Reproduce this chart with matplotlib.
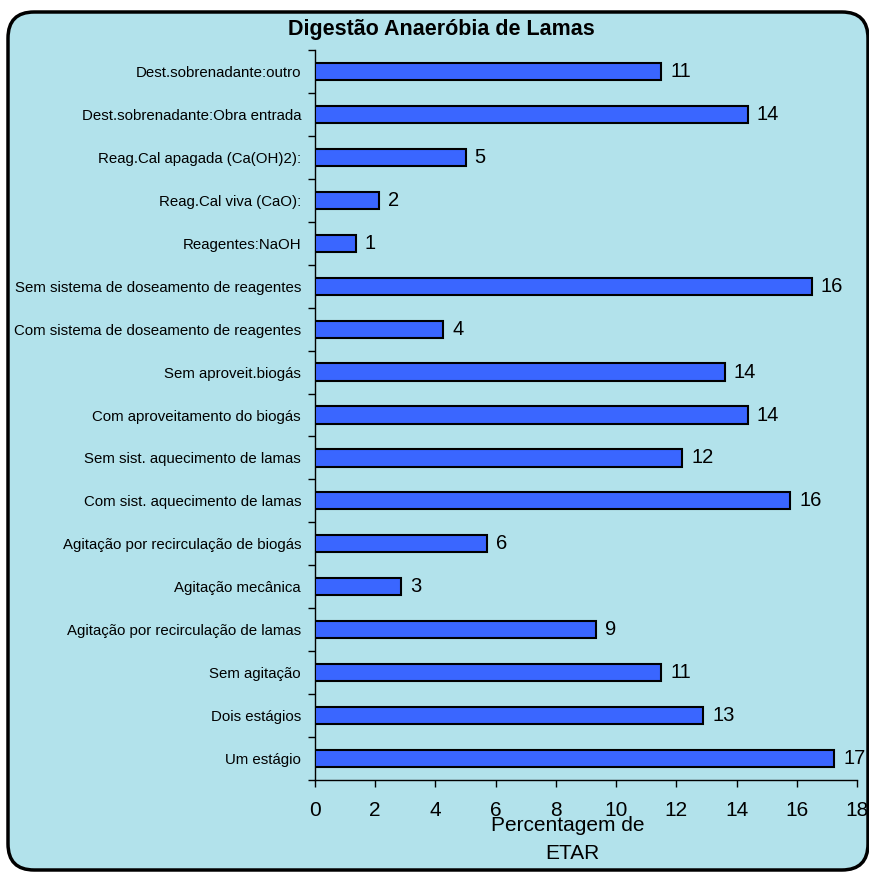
import matplotlib
matplotlib.use('Agg')
import matplotlib.pyplot as plt
from matplotlib.patches import FancyBboxPatch
import numpy as np

plt.rcParams['font.family'] = ['Liberation Sans', 'DejaVu Sans']

# categories from bottom to top
categories = ['Um estágio', 'Dois estágios', 'Sem agitação',
              'Agitação por recirculação de lamas', 'Agitação mecânica',
              'Agitação por recirculação de biogás',
              'Com sist. aquecimento de lamas', 'Sem sist. aquecimento de lamas',
              'Com aproveitamento do biogás', 'Sem aproveit.biogás',
              'Com sistema de doseamento de reagentes',
              'Sem sistema de doseamento de reagentes',
              'Reagentes:NaOH', 'Reag.Cal viva (CaO):',
              'Reag.Cal apagada (Ca(OH)2):',
              'Dest.sobrenadante:Obra entrada', 'Dest.sobrenadante:outro']
values = [17.25, 12.9, 11.49, 9.32, 2.85, 5.72, 15.78, 12.2, 14.37, 13.6,
          4.26, 16.5, 1.36, 2.13, 5.0, 14.37, 11.49]
value_labels = ['17', '13', '11', '9', '3', '6', '16', '12', '14', '14',
                '4', '16', '1', '2', '5', '14', '11']
x_ticks = [0, 2, 4, 6, 8, 10, 12, 14, 16, 18]

bg = '#b2e2eb'

fig = plt.figure(figsize=(8.70, 8.72), dpi=100)
fig.patch.set_facecolor('white')

# rounded frame behind everything
frame = FancyBboxPatch((8 / 870, 2 / 872), 860 / 870, 858 / 872,
                       boxstyle='round,pad=0,rounding_size=0.03',
                       transform=fig.transFigure, facecolor=bg,
                       edgecolor='black', linewidth=2.5, zorder=-10)
fig.patches.append(frame)

ax = fig.add_axes([315 / 870, 1 - 780 / 872, 542 / 870, 730 / 872])
ax.set_facecolor('none')
ax.set_zorder(1)

y = np.arange(len(categories))
ax.barh(y, values, height=0.4, color='#3a66ff', edgecolor='black',
        linewidth=1.5, zorder=3)
for yi, v, lab in zip(y, values, value_labels):
    ax.text(v + 0.3, yi, lab, va='center', ha='left', fontsize=14.5)

ax.set_xlim(0, 18)
ax.set_ylim(-0.5, len(categories) - 0.5)
ax.set_xticks(x_ticks)
ax.tick_params(axis='x', labelsize=15, length=5, width=1, pad=10)
ax.set_yticks(y)
ax.set_yticklabels(categories, fontsize=10.8)
ax.set_yticks(np.arange(-0.5, len(categories)), minor=True)
ax.tick_params(axis='y', which='major', length=0, pad=10)
ax.tick_params(axis='y', which='minor', length=5, width=1)

for s in ['top', 'right']:
    ax.spines[s].set_visible(False)
ax.spines['left'].set_linewidth(1)
ax.spines['bottom'].set_linewidth(1)

fig.text(568 / 870, 1 - 825 / 872, 'Percentagem de', ha='center',
         va='center', fontsize=15)
fig.text(572 / 870, 1 - 853 / 872, 'ETAR', ha='center', va='center',
         fontsize=15)

fig.text(441 / 870, 1 - 30 / 872, 'Digestão Anaeróbia de Lamas',
         ha='center', va='center', fontsize=15.5, fontweight='bold')

fig.savefig('out.png', dpi=100)
